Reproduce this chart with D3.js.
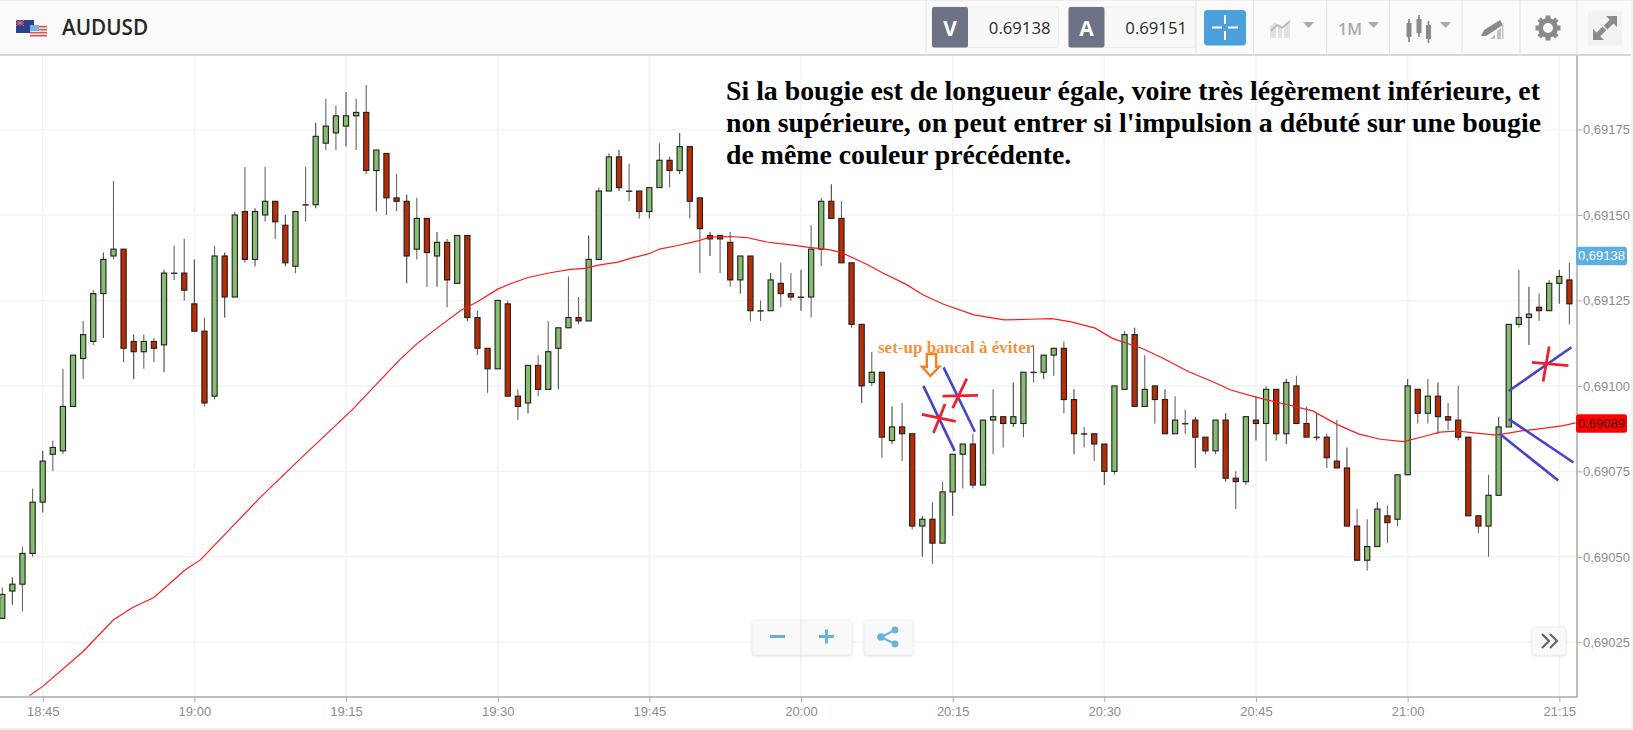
<!DOCTYPE html>
<html><head><meta charset="utf-8">
<script src="https://cdn.jsdelivr.net/npm/d3@7/dist/d3.min.js"></script>
<style>html,body{margin:0;padding:0;background:#fff;overflow:hidden}svg{display:block}</style>
</head><body>
<svg id="c" width="1633" height="730"></svg>
<script>
const firstMinute = -4;
const opens = [69032,69040,69042,69051,69066,69080,69081,69094,69108,69113,69127,69138,69140,69113,69110,69113,69112,69133,69133,69124,69116,69097,69138,69126,69151,69137,69150,69154,69147,69135,69153,69153,69171,69174,69176,69179,69180,69163,69168,69155,69154,69140,69149,69138,69142,69130,69144,69120,69111,69105,69124,69097,69095,69106,69099,69111,69117,69120,69119,69137,69157,69167,69157,69157,69151,69158,69166,69163,69170,69155,69144,69144,69142,69131,69138,69122,69122,69130,69127,69126,69126,69140,69154,69149,69136,69118,69101,69104,69084,69088,69086,69059,69061,69054,69069,69080,69083,69071,69090,69091,69089,69089,69104,69104,69109,69111,69096,69086,69086,69083,69075,69099,69115,69094,69100,69096,69086,69089,69090,69085,69081,69090,69073,69072,69090,69089,69099,69086,69100,69089,69085,69085,69078,69076,69059,69049,69053,69062,69061,69074,69099,69092,69097,69091,69090,69085,69062,69059,69068,69088,69118,69120,69123,69122,69130,69131];
const closes = [69039,69042,69051,69066,69078,69082,69094,69109,69115,69127,69137,69140,69111,69110,69113,69111,69133,69133,69128,69116,69095,69138,69126,69150,69137,69151,69154,69148,69136,69151,69153,69173,69176,69179,69179,69180,69163,69169,69155,69154,69138,69149,69139,69142,69131,69144,69120,69111,69105,69125,69097,69094,69106,69099,69110,69117,69120,69119,69137,69157,69167,69158,69157,69151,69158,69166,69163,69170,69154,69146,69143,69143,69131,69138,69122,69122,69131,69127,69126,69126,69140,69154,69149,69136,69118,69100,69104,69085,69088,69086,69059,69061,69054,69069,69080,69083,69071,69090,69091,69089,69091,69104,69104,69109,69111,69096,69086,69086,69083,69075,69100,69115,69094,69099,69096,69086,69090,69089,69085,69081,69090,69073,69072,69091,69089,69099,69086,69101,69089,69085,69085,69079,69076,69059,69049,69053,69064,69060,69074,69100,69092,69097,69091,69090,69085,69062,69059,69068,69088,69118,69120,69121,69122,69130,69132,69124];
const highs = [69041,69044,69053,69070,69081,69084,69105,69109,69119,69128,69139,69160,69140,69115,69115,69114,69134,69141,69143,69137,69120,69141,69139,69151,69164,69152,69164,69154,69150,69151,69164,69177,69184,69182,69186,69184,69188,69169,69168,69162,69156,69155,69149,69145,69143,69144,69144,69122,69111,69125,69125,69099,69106,69109,69119,69117,69132,69126,69144,69158,69168,69169,69165,69157,69158,69171,69167,69174,69170,69155,69145,69144,69145,69138,69138,69125,69133,69136,69133,69134,69147,69155,69159,69154,69136,69118,69110,69104,69094,69095,69086,69062,69066,69072,69080,69083,69086,69090,69099,69091,69101,69104,69112,69109,69111,69113,69099,69088,69086,69083,69100,69116,69117,69109,69100,69099,69097,69093,69091,69085,69090,69092,69075,69091,69097,69100,69099,69102,69103,69094,69092,69086,69090,69082,69064,69061,69066,69065,69074,69102,69099,69102,69101,69095,69100,69085,69062,69074,69091,69118,69134,69129,69127,69131,69134,69136];
const lows = [69032,69036,69034,69050,69063,69075,69080,69094,69102,69112,69114,69137,69107,69102,69105,69107,69104,69131,69125,69116,69094,69096,69120,69126,69136,69135,69148,69143,69135,69133,69148,69152,69169,69169,69170,69169,69162,69151,69150,69151,69130,69137,69129,69129,69123,69130,69119,69109,69098,69105,69097,69090,69092,69097,69099,69099,69117,69118,69119,69137,69157,69157,69154,69149,69149,69158,69158,69162,69149,69133,69138,69133,69129,69127,69119,69119,69122,69123,69125,69122,69120,69135,69149,69136,69117,69095,69100,69079,69083,69078,69058,69050,69048,69054,69062,69070,69070,69071,69080,69082,69088,69085,69101,69102,69103,69092,69080,69082,69078,69071,69074,69099,69094,69094,69089,69086,69086,69086,69076,69080,69080,69072,69064,69071,69084,69078,69084,69083,69089,69085,69084,69076,69076,69059,69049,69046,69053,69054,69059,69074,69089,69089,69086,69087,69084,69062,69057,69050,69068,69088,69117,69112,69119,69122,69124,69118];

const maMinutes = [-1.3,0,4,7,8.9,11,14.1,15.6,21.5,25.6,30.6,35.3,37,39,41.3,43,45,46.2,48,50.2,52.2,53.6,55.1,56.9,58.4,59.9,61.1,62.7,64.8,66,68,69.6,71.6,72.9,74.2,75.6,77.9,79,81.5,83.1,85.4,87.1,89.1,92.1,95.1,97.7,99.8,101.6,104.1,105.8,108.7,110.8,113.3,115.9,117.5,120,122.8,125.6,128.1,130.2,132.3,134.6,136.6,138.2,139.9,141.8,143.8,146.4,148.4,150.4,151.6];
const maValues = [69009.4,69012.1,69022.3,69031.6,69035.2,69038.1,69046.2,69049.1,69067.3,69079,69093,69107.6,69112.3,69116.9,69122,69124.6,69128.3,69129.8,69131.7,69133.1,69134.1,69134.4,69135.4,69136.2,69137.5,69138.6,69140.1,69141,69142.4,69143.5,69143.7,69143.4,69142.1,69141.6,69141.2,69140.6,69139.8,69139,69135.6,69133,69129.7,69126.6,69123.9,69120.8,69119.3,69119.5,69119.7,69118.8,69116.9,69113.9,69111,69108.1,69104.2,69101,69098.8,69096.7,69094.7,69092.7,69088.6,69085.9,69084.4,69083.7,69085.2,69086.5,69086.8,69086.2,69085.6,69086.9,69087.6,69088.4,69089.2];

const priceTicks = [69025,69050,69075,69100,69125,69150,69175];
const priceLabels = ["0,69025","0,69050","0,69075","0,69100","0,69125","0,69150","0,69175"];
const timeTicks = [0,15,30,45,60,75,90,105,120,135,150];
const timeLabels = ["18:45","19:00","19:15","19:30","19:45","20:00","20:15","20:30","20:45","21:00","21:15"];

const noteLines = ["Si la bougie est de longueur égale, voire très légèrement inférieure, et","non supérieure, on peut entrer si l'impulsion a débuté sur une bougie","de même couleur précédente."];
const setupNote = "set-up bancal à éviter";
const blueStrokes = [[87.1,69100,90.2,69081],[89.1,69105.4,92.2,69086.6],[145,69098.5,151.2,69111.3],[145,69090.3,151.4,69077.6],[144.1,69086,149.9,69072.3]];
const redStrokes = [[86.95,69091.7,90.3,69089.6],[89.25,69094.7,88.1,69086.2],[89,69097,92.5,69097.2],[91.4,69102.1,90,69093.5],[147.3,69106.9,150.9,69105.9],[149,69111.5,148.4,69101.3]];
const bidPrice = "0.69138", askPrice = "0.69151";
const lastLabel = "0,69138", maLabel = "0,69089";
const lastValue = 69138, maLast = 69089;

const svg = d3.select("#c");
const x = d3.scaleLinear().domain([0,150]).range([42.7,1559.3]);
const y = d3.scaleLinear().domain([69025,69175]).range([642.3,129.5]);
const AX = 1577, AY = 697, TOP = 55;
const gray = "#8c8c8c", sans = "'Liberation Sans',Arial,sans-serif", open = "'Open Sans',sans-serif";

// grid
const grid = svg.append("g").attr("stroke","#f3f3f3").attr("stroke-width",1.5);
grid.selectAll("line.v").data(timeTicks).join("line").attr("class","v").attr("x1",d=>x(d)).attr("x2",d=>x(d)).attr("y1",TOP).attr("y2",AY);
grid.selectAll("line.h").data(priceTicks).join("line").attr("class","h").attr("x1",0).attr("x2",AX).attr("y1",d=>y(d)).attr("y2",d=>y(d));

// candles
const cand = opens.map((o,i)=>({m:firstMinute+i,o,c:closes[i],h:highs[i],l:lows[i]}));
const cg = svg.append("g");
cg.selectAll("line.w").data(cand).join("line").attr("class","w")
  .attr("x1",d=>x(d.m)).attr("x2",d=>x(d.m)).attr("y1",d=>y(d.h)).attr("y2",d=>y(d.l))
  .attr("stroke",d=>d.m%3==0?"#444":"#666").attr("stroke-width",1.1);
cg.selectAll("rect").data(cand).join("rect")
  .attr("x",d=>x(d.m)-2.6).attr("width",5.2)
  .attr("y",d=>y(Math.max(d.o,d.c)))
  .attr("height",d=>Math.max(0.4,Math.abs(y(d.o)-y(d.c))))
  .attr("fill",d=>d.c>d.o?"#86bd70":"#b82c06")
  .attr("stroke",d=>d.c==d.o?"#333":"#1f1f1f").attr("stroke-width",1.1);

// moving average
svg.append("path").datum(maMinutes.map((m,i)=>[m,maValues[i]]))
  .attr("d",d3.line().x(d=>x(d[0])).y(d=>y(d[1])))
  .attr("fill","none").attr("stroke","#ff1a1a").attr("stroke-width",1.2);

// axes
const ay = d3.axisRight(y).tickValues(priceTicks).tickSize(5).tickFormat(d=>priceLabels[priceTicks.indexOf(d)]);
const gy = svg.append("g").attr("transform",`translate(${AX},0)`).call(ay);
const ax = d3.axisBottom(x).tickValues(timeTicks).tickSize(5).tickFormat(d=>timeLabels[timeTicks.indexOf(d)]);
const gx = svg.append("g").attr("transform",`translate(0,${AY})`).call(ax);
[gy,gx].forEach(g=>{g.select(".domain").remove();g.selectAll("line").attr("stroke","#aaa");
  g.selectAll("text").attr("fill",gray).style("font",`13px ${sans}`);});
gx.selectAll("text").attr("y",10);
gy.selectAll("text").attr("x",6);
svg.append("line").attr("x1",AX).attr("x2",AX).attr("y1",TOP).attr("y2",AY).attr("stroke","#aaa").attr("stroke-width",1.5);
svg.append("line").attr("x1",0).attr("x2",AX+.7).attr("y1",AY).attr("y2",AY).attr("stroke","#aaa").attr("stroke-width",1.5);

// price tags
function tag(v,label,fill,color){
  const g=svg.append("g").attr("transform",`translate(${AX-1},${y(v)})`);
  g.append("rect").attr("x",0).attr("y",-9.3).attr("width",51).attr("height",18.6).attr("rx",2.5).attr("fill",fill);
  g.append("text").attr("x",25.5).attr("y",4.5).attr("text-anchor","middle").attr("fill",color).style("font",`13px ${sans}`).text(label);
}
tag(lastValue,lastLabel,"#5bb0df","#fff");
tag(maLast,maLabel,"#ff0000","#3a1010");

// annotations
const strokes=(data,col,w)=>svg.append("g").selectAll("line").data(data).join("line")
  .attr("x1",d=>x(d[0])).attr("y1",d=>y(d[1])).attr("x2",d=>x(d[2])).attr("y2",d=>y(d[3]))
  .attr("stroke",col).attr("stroke-width",w);
strokes(blueStrokes,"#4545cc",2.6);
strokes(redStrokes,"#ee2030",2.8);
svg.append("g").attr("transform",`translate(${x(87.8)},${y(69102.9)})`).append("path")
  .attr("d","M-3.6,-22 H5.7 V-9.3 H9 L0,0 L-8.6,-9.3 H-3.6 Z").attr("fill","#fff").attr("stroke","#f58220").attr("stroke-width",2.4);
svg.append("text").attr("x",878).attr("y",352.5)
  .attr("fill","#f9903c").style("font","bold 17px 'Liberation Serif',serif").text(setupNote);
const nt=svg.append("g").attr("fill","#000").style("font","bold 27.8px 'Liberation Serif',serif");
nt.selectAll("text").data(noteLines).join("text").attr("x",726).attr("y",(d,i)=>100+i*32).text(d=>d);

// bottom buttons
function btn(bx,by,w,h){svg.append("rect").attr("x",bx).attr("y",by).attr("width",w).attr("height",h).attr("rx",3).attr("fill","#f9f9f9").attr("stroke","#f0f0f0").style("filter","drop-shadow(0 1px 1px rgba(0,0,0,.1))");}
btn(752,620,100,35); btn(864,620,49,35);
svg.append("line").attr("x1",801).attr("x2",801).attr("y1",620).attr("y2",655).attr("stroke","#e6e6e6");
const bl="#6cb0dd";
svg.append("path").attr("d","M770,636.5 h15 M819,636.5 h15 M826.5,629.5 v14").attr("stroke",bl).attr("stroke-width",3).attr("fill","none");
const sh=svg.append("g").attr("fill",bl);
[[881,637,3.8],[895,630,3.4],[895,644,3.4]].forEach(c=>sh.append("circle").attr("cx",c[0]).attr("cy",c[1]).attr("r",c[2]));
svg.append("path").attr("d","M895,630 L881,637 L895,644").attr("stroke",bl).attr("stroke-width",2).attr("fill","none");
btn(1532,627,34,28);
svg.append("path").attr("d","M1542,634 l7,7 l-7,7 M1550,634 l7,7 l-7,7").attr("stroke","#666").attr("stroke-width",2.2).attr("fill","none");

// header
svg.append("rect").attr("x",0).attr("y",0).attr("width",1633).attr("height",55).attr("fill","#fafafa");
svg.append("rect").attr("x",0).attr("y",0).attr("width",1633).attr("height",1).attr("fill","#eee");
svg.append("line").attr("x1",0).attr("x2",1633).attr("y1",55).attr("y2",55).attr("stroke","#ccc").attr("stroke-width",1.4);
svg.append("g").selectAll("line").data([926,1196,1253.5,1326.7,1389.5,1462,1520,1577]).join("line")
  .attr("x1",d=>d).attr("x2",d=>d).attr("y1",0).attr("y2",55).attr("stroke","#e2e2e2");
// flags
const fl=svg.append("g");
fl.append("rect").attr("x",16).attr("y",20).attr("width",18).attr("height",13).attr("fill","#2d3f8f");
fl.append("path").attr("d","M16,20 l8,6 M24,20 l-8,6 M20,20 v6 M16,23 h8").attr("stroke","#e56a6a").attr("stroke-width",1);
fl.append("rect").attr("x",30).attr("y",25).attr("width",17).attr("height",12).attr("fill","#f6dcdc");
[26,29,32,35].forEach(s=>fl.append("rect").attr("x",30).attr("y",s).attr("width",17).attr("height",1.4).attr("fill","#e25555"));
fl.append("rect").attr("x",30).attr("y",25).attr("width",9).attr("height",6).attr("fill","#6fb4ea");
svg.append("text").attr("x",62).attr("y",35).attr("fill","#262626").style("font",`600 20.7px ${open}`).text("AUDUSD");
// quote boxes
function quote(bx,letter,val){
  svg.append("rect").attr("x",bx).attr("y",7).attr("width",126.5).attr("height",40.5).attr("rx",2.5).attr("fill","#f8f8f8").attr("stroke","#ececec");
  svg.append("rect").attr("x",bx).attr("y",7).attr("width",36).attr("height",40.5).attr("rx",2).attr("fill","#6e7287");
  svg.append("text").attr("x",bx+18).attr("y",36).attr("text-anchor","middle").attr("fill","#fff").style("font",`700 21px ${open}`).text(letter);
  svg.append("text").attr("x",bx+118.5).attr("y",33.5).attr("text-anchor","end").attr("fill","#2a2a2a").style("font",`16.7px ${open}`).text(val);
}
quote(932,"V",bidPrice); quote(1068.5,"A",askPrice);
svg.append("rect").attr("x",1204).attr("y",10).attr("width",42).attr("height",35.5).attr("rx",3.5).attr("fill","#4a9fdc");
svg.append("path").attr("d","M1212,27.5 h10 M1228,27.5 h10 M1225,15 v9 M1225,31 v9").attr("stroke","#fff").attr("stroke-width",2).attr("fill","none");
const ic2="#8a8a8a";
// chart-type icon
svg.append("path").attr("d","M1270,38 V26 l6,-4 v16 Z M1278,38 V24 l4,1 V38 Z M1284,38 V25 l6,-3 V38 Z").attr("fill","#e2e2e2");
svg.append("path").attr("d","M1271,31 l6,-6 l5,3 l8,-7").attr("stroke","#bbb").attr("stroke-width",1.8).attr("fill","none");
svg.append("path").attr("d","M1303,22 h11 l-5.5,6 Z M1368,22 h11 l-5.5,6 Z M1440,22 h11 l-5.5,6 Z").attr("fill","#aaa");
svg.append("text").attr("x",1338).attr("y",35).attr("fill","#aaa").style("font",`600 16px ${open}`).text("1M");
// candle icon
const ci=svg.append("g").attr("fill",ic2).attr("stroke",ic2);
[[1409,19,42,23,37],[1419,15,37,19,33],[1428.5,21,43,25,39]].forEach(c=>{
  ci.append("line").attr("x1",c[0]).attr("x2",c[0]).attr("y1",c[1]).attr("y2",c[2]).attr("stroke-width",1.8);
  ci.append("rect").attr("x",c[0]-2.5).attr("y",c[3]).attr("width",5).attr("height",c[4]-c[3]).attr("stroke","none");});
// pen icon
svg.append("path").attr("d","M1481,36 l3,-6 l16,-10 l3,5 l-17,11 Z").attr("fill",ic2);
svg.append("path").attr("d","M1490,39 l5,-5 v5 Z M1497,39 v-8 l4,-3 v11 Z M1502,39 V24 l1.5,-1 V39 Z").attr("fill","#c2c2c2");
// gear
const gear=svg.append("g").attr("transform","translate(1548,28)");
gear.append("circle").attr("r",7.5).attr("fill","none").attr("stroke",ic2).attr("stroke-width",5);
d3.range(8).forEach(i=>gear.append("rect").attr("x",-2.5).attr("y",-12.5).attr("width",5).attr("height",5).attr("fill",ic2).attr("transform",`rotate(${i*45})`));
// expand
svg.append("rect").attr("x",1588).attr("y",11.5).attr("width",34).attr("height",34).attr("fill","#f2f2f2");
svg.append("path").attr("d","M1617,16 v11 l-3.6,-3.6 l-6,6 l-3.6,-3.6 l6,-6 l-3.8,-3.8 Z M1593,40 v-11 l3.6,3.6 l6,-6 l3.6,3.6 l-6,6 l3.8,3.8 Z").attr("fill",ic2);
svg.append("rect").attr("x",0).attr("y",728).attr("width",1633).attr("height",2).attr("fill","#eee");
svg.append("rect").attr("x",1631).attr("y",0).attr("width",2).attr("height",730).attr("fill","#f4f4f4");
</script>
</body></html>
